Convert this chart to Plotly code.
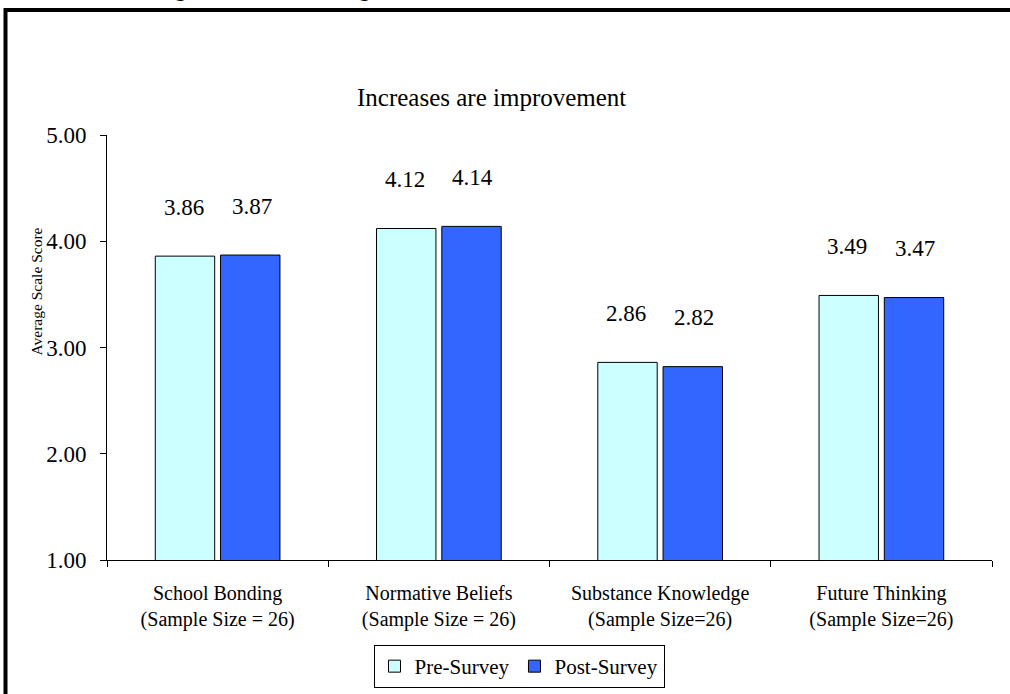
import plotly.graph_objects as go

# Categories and survey averages
categories = [
    "School Bonding<br>(Sample Size = 26)",
    "Normative Beliefs<br>(Sample Size = 26)",
    "Substance Knowledge<br>(Sample Size=26)",
    "Future Thinking<br>(Sample Size=26)",
]
pre_survey = [3.86, 4.12, 2.86, 3.49]
post_survey = [3.87, 4.14, 2.82, 3.47]
y_ticks = [1.0, 2.0, 3.0, 4.0, 5.0]

serif = "Times New Roman, Liberation Serif, serif"
W, H = 1010, 694
L, R, T, B = 107, 18, 135, 134

fig = go.Figure()
fig.add_trace(go.Bar(
    name="Pre-Survey", x=categories, y=pre_survey, base=0,
    marker=dict(color="#CCFFFF", line=dict(color="black", width=1)),
    offsetgroup="pre",
))
fig.add_trace(go.Bar(
    name="Post-Survey", x=categories, y=post_survey, base=0,
    marker=dict(color="#3366FF", line=dict(color="black", width=1)),
    offsetgroup="post",
))

# Value labels above each bar
annotations = []
for i, cat in enumerate(categories):
    for vals, xs in ((pre_survey, -34), (post_survey, 34)):
        annotations.append(dict(
            x=cat, y=vals[i], xref="x", yref="y", text=f"{vals[i]:.2f}",
            showarrow=False, xshift=xs, yshift=49, yanchor="middle",
            font=dict(family=serif, size=23, color="black"),
        ))

pw, ph = W - L - R, H - T - B


def px_x(p):
    return (p - L) / pw


def px_y(p):
    return (H - B - p) / ph


annotations += [
    dict(text="Increases are improvement", x=px_x(491), y=px_y(98),
         xref="paper", yref="paper", showarrow=False, yanchor="middle",
         font=dict(family=serif, size=25, color="black")),
    dict(text="Average Scale Score", x=px_x(25), y=px_y(292),
         xref="paper", yref="paper", showarrow=False, textangle=-90,
         font=dict(family=serif, size=15.5, color="black")),
    dict(text="Figure 4: Average Scale Scores for Protective Factors",
         x=px_x(515), y=px_y(3), xref="paper", yref="paper", showarrow=False,
         yanchor="bottom", font=dict(family="Liberation Sans", size=31, color="black")),
]

fig.update_layout(
    width=W, height=H,
    margin=dict(l=L, r=R, t=T, b=B, autoexpand=False),
    paper_bgcolor="white", plot_bgcolor="white",
    barmode="group", bargap=0.41, bargroupgap=0.09,
    font=dict(family=serif, size=20, color="black"),
    annotations=annotations,
    showlegend=True,
    legend=dict(
        orientation="h", x=px_x(519), y=px_y(645), xanchor="center", yanchor="top",
        bordercolor="black", borderwidth=1, bgcolor="white",
        font=dict(family=serif, size=21, color="black"),
        itemwidth=30, tracegroupgap=0,
    ),
    shapes=[dict(
        type="rect", xref="paper", yref="paper",
        x0=px_x(5.5), x1=px_x(1030), y0=px_y(720), y1=px_y(10),
        line=dict(color="black", width=4), layer="below",
    )],
)

fig.update_xaxes(
    type="category", showline=True, linecolor="black", linewidth=1,
    ticks="outside", tickson="boundaries", ticklen=6, tickcolor="black",
    ticklabelstandoff=15, automargin=False,
    tickfont=dict(family=serif, size=20, color="black"), showgrid=False,
)
fig.update_yaxes(
    range=[1, 5], tickvals=y_ticks, ticktext=[f"{v:.2f}" for v in y_ticks],
    showline=True, linecolor="black", linewidth=1, ticks="outside",
    ticklen=6, tickcolor="black", showgrid=False, zeroline=False,
    ticklabelstandoff=9, automargin=False,
    tickfont=dict(family=serif, size=23, color="black"),
)

fig.write_html("out.html")
